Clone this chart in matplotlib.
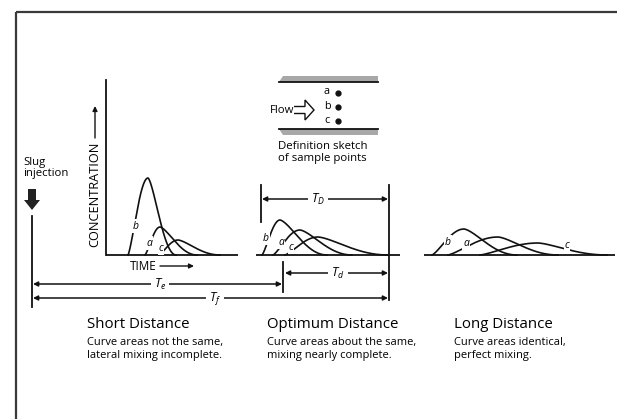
import numpy as np
import matplotlib
matplotlib.use("Agg")
import matplotlib.pyplot as plt
from matplotlib.patches import Polygon, FancyArrow, Rectangle

plt.rcParams['font.family'] = ['Open Sans', 'DejaVu Sans']
plt.rcParams['mathtext.fontset'] = 'custom'
plt.rcParams['mathtext.it'] = 'Open Sans:italic'
plt.rcParams['mathtext.rm'] = 'Open Sans'

# ---- data ----
panel_titles = ["Short Distance", "Optimum Distance", "Long Distance"]
panel_sub1 = ["Curve areas not the same,", "Curve areas about the same,", "Curve areas identical,"]
panel_sub2 = ["lateral mixing incomplete.", "mixing nearly complete.", "perfect mixing."]
curve_names = ["b", "a", "c"]
# per panel: start time, peak time, end time, peak concentration
short_start = [128, 145, 159]
short_peak = [148, 160, 178]
short_end = [176, 197, 220]
short_height = [77, 28, 15]
opt_start = [262, 273, 285]
opt_peak = [280, 300, 318]
opt_end = [327, 352, 388]
opt_height = [35, 25, 18]
long_start = [432, 448, 480]
long_peak = [464, 498, 538]
long_end = [517, 558, 607]
long_height = [26, 18, 12]
# label positions of the curve names
short_lab_x = [136, 149, 161]
short_lab_y = [226, 243, 248]
opt_lab_x = [266, 281, 291]
opt_lab_y = [238, 242, 247]
long_lab_x = [448, 466, 567]
long_lab_y = [242, 243, 245]
sample_names = ["a", "b", "c"]

BASE = 255
INK = '#111111'

fig = plt.figure(figsize=(6.17, 4.19), dpi=100)
ax = fig.add_axes([0, 0, 1, 1])
ax.set_xlim(0, 617)
ax.set_ylim(419, 0)
ax.axis('off')

# frame
ax.add_patch(Rectangle((16, 12), 700, 500, fill=False, edgecolor='#3a3a3a', lw=1.6))


def pulse(x0, xp, x1, h, n=80):
    t = np.linspace(0, 1, n)
    xr = x0 + (xp - x0) * t
    yr = h * np.sin(np.pi / 2 * t) ** 1.3
    u = np.linspace(0, 1, n)
    xf = xp + (x1 - xp) * u
    yf = h * np.cos(np.pi / 2 * u ** 0.75) ** 2
    return np.concatenate([xr, xf[1:]]), np.concatenate([yr, yf[1:]])


def draw_panel(starts, peaks, ends, heights, lx, ly, x_from, x_to):
    ax.plot([x_from, x_to], [BASE, BASE], color=INK, lw=1.3, solid_capstyle='butt')
    for s, p, e, h in zip(starts, peaks, ends, heights):
        xs, ys = pulse(s, p, e, h)
        ax.plot(xs, BASE - ys, color=INK, lw=1.2)
    for name, x, y in zip(curve_names, lx, ly):
        ax.text(x, y, name, fontsize=7.5, style='italic', ha='center', va='center',
                bbox=dict(boxstyle='square,pad=0.1', fc='white', ec='none'))


draw_panel(short_start, short_peak, short_end, short_height, short_lab_x, short_lab_y, 106, 238)
draw_panel(opt_start, opt_peak, opt_end, opt_height, opt_lab_x, opt_lab_y, 256, 400)
draw_panel(long_start, long_peak, long_end, long_height, long_lab_x, long_lab_y, 424, 615)

# short-distance axes
ax.plot([106, 106], [80, BASE], color=INK, lw=1.3)
ax.text(95, 194, "CONCENTRATION", rotation=90, ha='center', va='center', fontsize=9.2)
ax.annotate('', xy=(95, 106), xytext=(95, 138),
            arrowprops=dict(arrowstyle='-|>', color=INK, lw=1.0, mutation_scale=7, shrinkA=0, shrinkB=0))
ax.text(130, 266, "TIME", ha='left', va='center', fontsize=8.4)
ax.annotate('', xy=(194, 266), xytext=(160, 266),
            arrowprops=dict(arrowstyle='-|>', color=INK, lw=1.0, mutation_scale=7, shrinkA=0, shrinkB=0))

# slug injection
ax.text(23, 168, "Slug\ninjection", ha='left', va='center', fontsize=8.2, linespacing=1.1)
ax.add_patch(FancyArrow(32, 189, 0, 21, width=8, head_width=16, head_length=10,
                        length_includes_head=True, color='#222222', lw=0))
ax.plot([32, 32], [216, 307], color=INK, lw=1.3)


def dim(x0, x1, y, label, lx):
    ax.annotate('', xy=(x1, y), xytext=(x0, y),
                arrowprops=dict(arrowstyle='<|-|>', color=INK, lw=1.1, mutation_scale=7,
                                shrinkA=0, shrinkB=0))
    ax.text(lx, y, label, ha='center', va='center', fontsize=9,
            bbox=dict(boxstyle='square,pad=0.25', fc='white', ec='none'))


ax.plot([283, 283], [262, 292], color=INK, lw=1.3)
ax.plot([389, 389], [185, 300], color=INK, lw=1.3)
ax.plot([261, 261], [185, 222], color=INK, lw=1.3)
dim(262, 388, 199, r"$T_D$", 318)
dim(285, 388, 273, r"$T_d$", 338)
dim(33, 282, 284, r"$T_e$", 160)
dim(33, 388, 298, r"$T_f$", 215)

# definition sketch
ax.add_patch(Polygon([[283, 76.5], [378, 76.5], [378, 82], [279, 82]], closed=True, fc='#a8a8a8', ec='none'))
ax.plot([279, 378], [82, 82], color=INK, lw=1.3)
ax.add_patch(Polygon([[279, 129], [378, 129], [378, 135.5], [283, 135.5]], closed=True, fc='#a8a8a8', ec='none'))
ax.plot([279, 378], [129, 129], color=INK, lw=1.3)
ax.text(270, 110, "Flow", ha='left', va='center', fontsize=8.2)
ax.add_patch(Polygon([[294, 106.5], [305, 106.5], [305, 100], [314, 110], [305, 120], [305, 113.5], [294, 113.5]],
                     closed=False, fc='white', ec=INK, lw=1.0))
for nm, yy in zip(sample_names, [92, 106, 120]):
    ax.text(327, yy, nm, ha='center', va='center', fontsize=7.8)
    ax.plot(338, yy + 1, 'o', color=INK, ms=3.5)
ax.text(278, 146, "Definition sketch", ha='left', va='center', fontsize=8.2)
ax.text(278, 158, "of sample points", ha='left', va='center', fontsize=8.2)

# titles
for title, s1, s2, x in zip(panel_titles, panel_sub1, panel_sub2, [87, 267, 454]):
    ax.text(x, 324, title, ha='left', va='center', fontsize=10.8)
    ax.text(x, 342, s1, ha='left', va='center', fontsize=8.0)
    ax.text(x, 355, s2, ha='left', va='center', fontsize=8.0)

fig.savefig("out.png", dpi=100)
